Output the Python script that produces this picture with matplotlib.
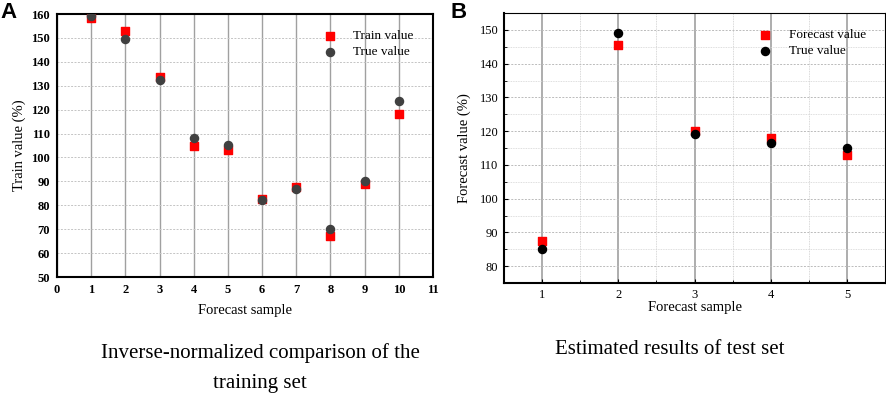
import matplotlib
matplotlib.use("Agg")
import matplotlib.pyplot as plt
from matplotlib.ticker import MultipleLocator

plt.rcParams['font.family'] = ['Liberation Serif', 'DejaVu Serif']

# panel A: training set
train_x = [1, 2, 3, 4, 5, 6, 7, 8, 9, 10]
train_pred = [158.5, 152.8, 133.5, 105.0, 103.2, 82.5, 87.8, 67.0, 89.0, 118.0]
train_true = [159.0, 149.5, 132.2, 108.0, 105.3, 82.3, 86.8, 70.0, 90.3, 123.5]

# panel B: test set
test_x = [1, 2, 3, 4, 5]
test_pred = [87.5, 145.6, 120.0, 118.0, 113.0]
test_true = [85.0, 149.0, 119.2, 116.5, 115.0]

fig = plt.figure(figsize=(8.86, 3.99), dpi=100)

# ---- A ----
axA = fig.add_axes([57 / 886, 1 - 277 / 399, 376 / 886, 263 / 399])
axA.set_xlim(0, 11)
axA.set_ylim(50, 160)
axA.xaxis.set_major_locator(MultipleLocator(1))
axA.yaxis.set_major_locator(MultipleLocator(10))
axA.grid(True, axis='x', color='#a0a0a0', lw=1.0, ls='-')
axA.grid(True, axis='y', color='#c4c4c4', lw=0.7, ls=(0, (2, 1.5)))
axA.set_axisbelow(True)
axA.scatter(train_x, train_pred, marker='s', s=30, color='#ff0000', label='Train value', zorder=3)
axA.scatter(train_x, train_true, marker='o', s=34, color='#404040', label='True value', zorder=4)
for sp in axA.spines.values():
    sp.set_linewidth(1.5)
axA.tick_params(length=0, labelsize=9, pad=5)
for lb in axA.get_yticklabels() + axA.get_xticklabels():
    lb.set_fontweight('bold')
axA.set_xlabel('Forecast sample', fontsize=10.5, labelpad=6)
axA.set_ylabel('Train value (%)', fontsize=10.5, labelpad=4)
axA.legend(loc='upper right', bbox_to_anchor=(0.97, 0.97), frameon=False,
           fontsize=9.5, handletextpad=0.8, labelspacing=0.3, borderaxespad=0.2)
fig.text(0 / 886, 1 - 12 / 399, 'A', fontsize=16, fontweight='bold',
         family='Liberation Sans', va='center', ha='left')

# ---- B ----
axB = fig.add_axes([504 / 886, 1 - 283 / 399, 381 / 886, 270 / 399])
axB.set_xlim(0.5, 5.5)
axB.set_ylim(75, 155)
axB.xaxis.set_major_locator(MultipleLocator(1))
axB.xaxis.set_minor_locator(MultipleLocator(0.5))
axB.yaxis.set_major_locator(MultipleLocator(10))
axB.yaxis.set_minor_locator(MultipleLocator(5))
axB.grid(True, which='major', axis='x', color='#a0a0a0', lw=1.2, ls='-')
axB.grid(True, which='minor', axis='x', color='#cccccc', lw=0.6, ls=(0, (1, 1)))
axB.grid(True, which='major', axis='y', color='#bbbbbb', lw=0.7, ls=(0, (2, 1.5)))
axB.grid(True, which='minor', axis='y', color='#d4d4d4', lw=0.6, ls=(0, (1, 1)))
axB.set_axisbelow(True)
axB.scatter(test_x, test_pred, marker='s', s=30, color='#ff0000', label='Forecast value', zorder=3)
axB.scatter(test_x, test_true, marker='o', s=34, color='#000000', label='True value', zorder=4)
axB.spines['top'].set_linewidth(0.8)
axB.spines['right'].set_linewidth(0.8)
axB.spines['left'].set_linewidth(1.5)
axB.spines['bottom'].set_linewidth(1.5)
axB.tick_params(which='both', direction='in', labelsize=9, pad=4)
axB.tick_params(which='major', length=3)
axB.tick_params(which='minor', length=2)
axB.set_xlabel('Forecast sample', fontsize=10.5, labelpad=0)
axB.set_ylabel('Forecast value (%)', fontsize=10.5, labelpad=6)
axB.legend(loc='upper right', bbox_to_anchor=(0.97, 0.97), frameon=False,
           fontsize=9.5, handletextpad=0.8, labelspacing=0.3, borderaxespad=0.2)
fig.text(450 / 886, 1 - 12 / 399, 'B', fontsize=16, fontweight='bold',
         family='Liberation Sans', va='center', ha='left')

# captions
fig.text(130 / 443, 1 - 368 / 399, 'Inverse-normalized comparison of the\ntraining set',
         fontsize=15, ha='center', va='center', linespacing=1.75)
fig.text(670 / 886, 1 - 350 / 399, 'Estimated results of test set',
         fontsize=15, ha='center', va='center')

fig.savefig('out.png', dpi=100)
